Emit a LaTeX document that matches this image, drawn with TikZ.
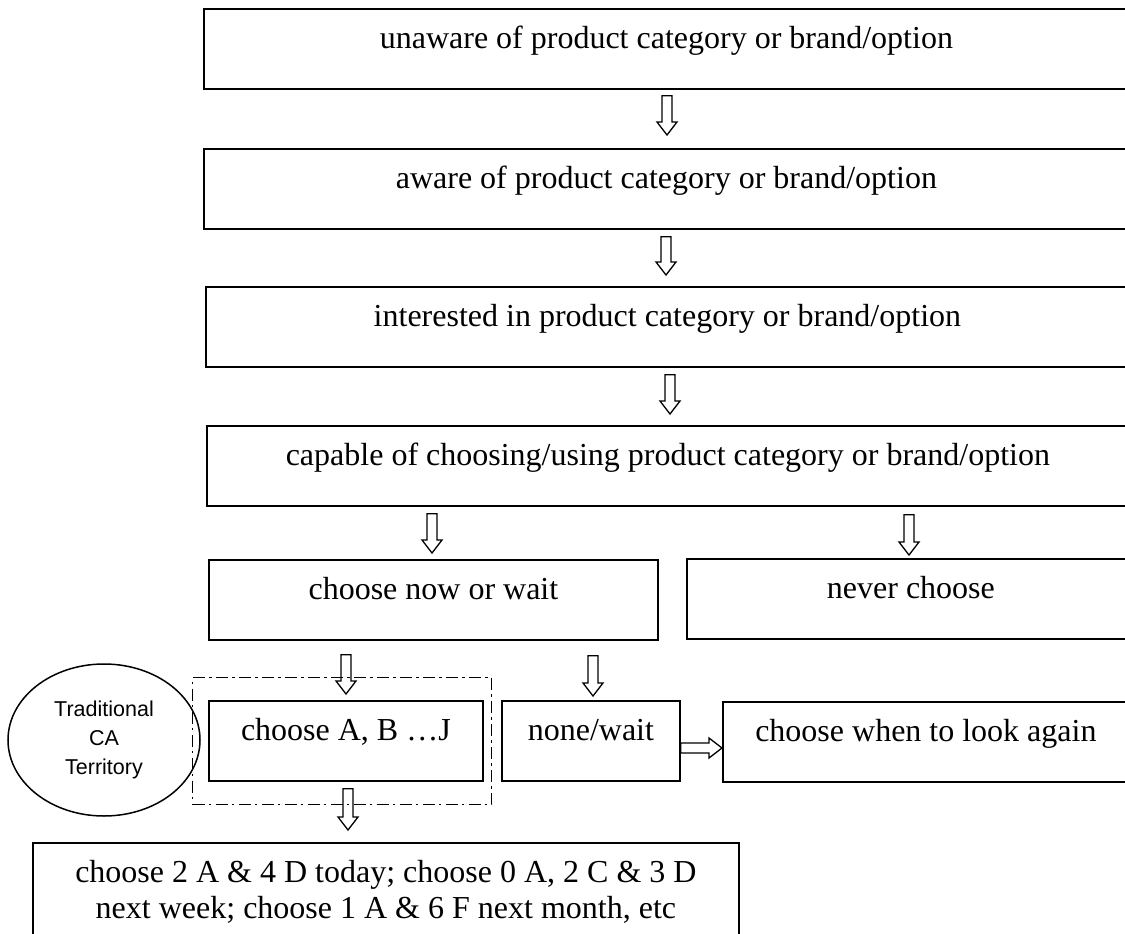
\documentclass[tikz,border=0pt]{standalone}
\usepackage{fontspec}
\setmainfont{Liberation Serif}
\newfontfamily\arialf{Liberation Sans}
\usetikzlibrary{calc,shapes.geometric}
\newcommand\blkdown[5]{%
  \draw[blockarrow] let \p1=(#1.south), \p2=(#2.north) in
    (#3pt-5pt,\y1-#4pt) -- (#3pt+5pt,\y1-#4pt) -- (#3pt+5pt,\y2+#5pt+13pt) --
    (#3pt+10pt,\y2+#5pt+13pt) -- (#3pt,\y2+#5pt) -- (#3pt-10pt,\y2+#5pt+13pt) --
    (#3pt-5pt,\y2+#5pt+13pt) -- cycle;}
\newcommand\blkright[3]{%
  \draw[blockarrow] let \p1=(#1.east), \p2=(#2.west) in
    (\x1,-#3pt+5pt) -- (\x2-13pt,-#3pt+5pt) -- (\x2-13pt,-#3pt+10pt) --
    (\x2,-#3pt) -- (\x2-13pt,-#3pt-10pt) -- (\x2-13pt,-#3pt-5pt) --
    (\x1,-#3pt-5pt) -- cycle;}
\begin{document}
\begin{tikzpicture}[x=1pt,y=-1pt,
  framenode/.style={draw, line width=1.8pt, inner sep=0pt, anchor=north west,
    font=\fontsize{32}{36}\selectfont},
  boxnode/.style={framenode, minimum height=80pt, text height=22pt, text depth=22pt},
  blockarrow/.style={draw, line width=1.3pt, line join=miter},
  groupbox/.style={draw, line width=1.3pt, dash pattern=on 12pt off 4pt on 2.5pt off 4.5pt,
    inner sep=0pt, anchor=north west},
  terr/.style={ellipse, draw, line width=1.5pt, inner sep=0pt, align=center,
    font=\arialf\fontsize{21.5}{29}\selectfont}]
\useasboundingbox (0,0) rectangle (1125,934);
\clip (0,0) rectangle (1125,934);
\fill[white] (0,0) rectangle (1125,934);

\node[boxnode, minimum width=925pt] (b1) at (203,8) {unaware of product category or brand/option};
\node[boxnode, minimum width=925pt] (b2) at (203,148) {aware of product category or brand/option};
\node[boxnode, minimum width=923pt] (b3) at (205,286) {interested in product category or brand/option};
\node[boxnode, minimum width=922pt] (b4) at (206,425) {capable of choosing/using product category or brand/option};
\node[boxnode, minimum width=449pt] (now) at (208,559) {choose now or wait};
\node[boxnode, minimum width=448pt] (never) at (686,558) {never choose};
\node[groupbox, minimum width=299pt, minimum height=127pt] (grp) at (192,677) {};
\node[boxnode, minimum width=274pt] (ab) at (208,700) {choose A, B …J};
\node[boxnode, minimum width=178pt] (none) at (501,700) {none/wait};
\node[boxnode, minimum width=406pt] (when) at (722,701) {choose when to look again};
\node[framenode, minimum width=706pt, align=center] (out) at (32,842)
  {\rule{0pt}{40pt}choose 2 A \& 4 D today; choose 0 A, 2 C \& 3 D\\
   next week; choose 1 A \& 6 F next month, etc\rule[-70pt]{0pt}{70pt}};
\node[terr, minimum width=192pt, minimum height=152pt] (trad) at (104,740)
  {Traditional\\CA\\Territory};

\blkdown{b1}{b2}{667}{6}{13}
\blkdown{b2}{b3}{666}{7}{11}
\blkdown{b3}{b4}{670}{7}{11}
\blkdown{b4}{now}{432}{7}{6}
\blkdown{b4}{never}{909}{8}{3}
\blkdown{now}{ab}{346}{14}{6}
\blkdown{now}{none}{593}{15}{4}
\blkdown{ab}{out}{348}{7}{12}
\blkright{none}{when}{748}
\end{tikzpicture}
\end{document}
